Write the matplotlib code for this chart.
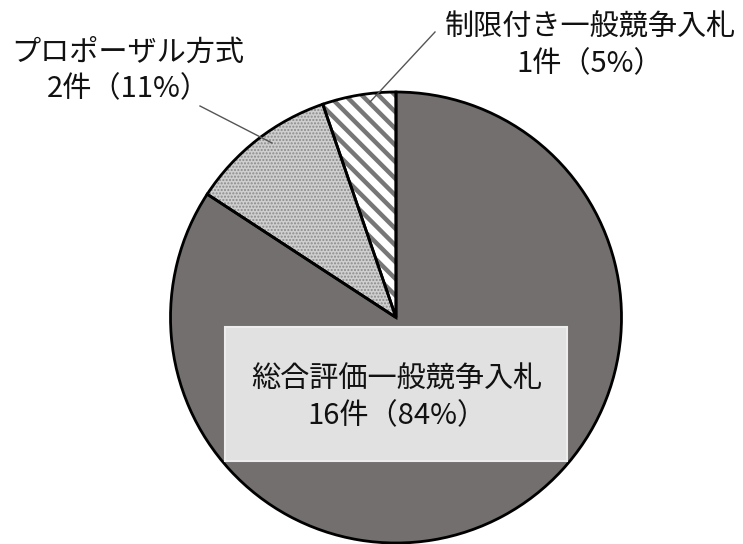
import matplotlib
matplotlib.use("Agg")
import matplotlib.pyplot as plt
from matplotlib.patches import Rectangle

plt.rcParams['font.family'] = ['Noto Sans CJK JP', 'DejaVu Sans']

# data
categories = ["制限付き一般競争入札", "プロポーザル方式", "総合評価一般競争入札"]
counts = [1, 2, 16]
percents = [5, 11, 84]

W, H = 743, 544
fig = plt.figure(figsize=(W / 100, H / 100), dpi=100)
ax = fig.add_axes([0, 0, 1, 1])
ax.set_xlim(0, W)
ax.set_ylim(0, H)
ax.set_aspect('equal')
ax.axis('off')

def Y(py):
    return H - py

cx, cy, r = 396, Y(317.5), 225.5

faces = ['white', '#cfcfcf', '#726f6e']
hatches = ['\\\\', '.....', None]
hatchcols = ['#777777', '#8a8a8a', '#726f6e']
hlw = [3.2, 1.0, 1.0]

# fill layer, each wedge with its own hatch settings
for i in range(len(counts)):
    with plt.rc_context({'hatch.linewidth': hlw[i]}):
        wedges, _ = ax.pie(counts, startangle=90, counterclock=True,
                           center=(cx, cy), radius=r, frame=True,
                           wedgeprops=dict(linewidth=0))
        for j, w in enumerate(wedges):
            if j != i:
                w.remove()
            else:
                w.set_facecolor(faces[i])
                w.set_edgecolor(hatchcols[i])
                if hatches[i]:
                    w.set_hatch(hatches[i])
                try:
                    w.set_hatch_linewidth(hlw[i])
                except Exception:
                    pass

# outline layer
wedges, _ = ax.pie(counts, startangle=90, counterclock=True,
                   center=(cx, cy), radius=r, frame=True,
                   wedgeprops=dict(fill=False, edgecolor='black', linewidth=2))

ax.set_xlim(0, W)
ax.set_ylim(0, H)
ax.axis('off')

# label box for the main slice
ax.add_patch(Rectangle((225, Y(461)), 342, 134, facecolor='#e1e1e1',
                       edgecolor='#ededed', linewidth=1.5, zorder=5))

fs = 21
def label(i, x, py):
    ax.text(x, Y(py), f"{categories[i]}\n{counts[i]}件（{percents[i]}%）",
            ha='center', va='center', fontsize=fs, linespacing=1.25,
            color='#111111', zorder=6)

label(0, 590, 46)
label(1, 128, 71)
label(2, 397, 398)

# leader lines
ax.plot([200, 272], [Y(106), Y(143)], color='#555555', linewidth=1, zorder=4)
ax.plot([435, 370], [Y(32), Y(102)], color='#555555', linewidth=1, zorder=4)

fig.savefig("out.png", dpi=100)
